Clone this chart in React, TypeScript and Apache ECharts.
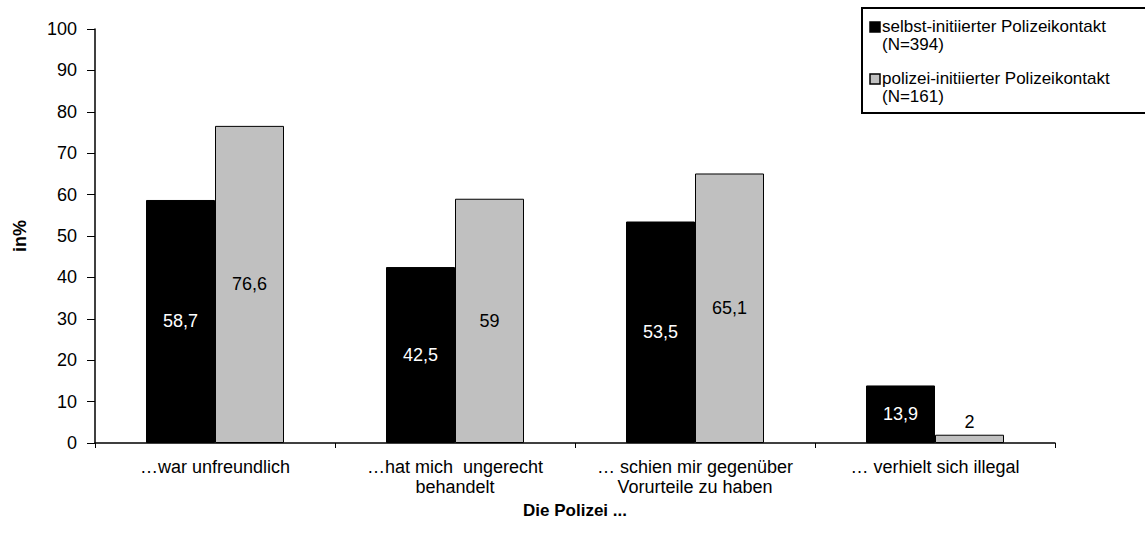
import React, { useEffect, useRef } from "react";
import * as echarts from "echarts";

const categories = [
  "…war unfreundlich",
  "…hat mich  ungerecht\nbehandelt",
  "… schien mir gegenüber\nVorurteile zu haben",
  "… verhielt sich illegal",
];
const seriesNames = [
  "selbst-initiierter Polizeikontakt\n(N=394)",
  "polizei-initiierter Polizeikontakt\n(N=161)",
];
const seriesColors = ["#000000", "#C0C0C0"];
const selbstValues = [58.7, 42.5, 53.5, 13.9];
const polizeiValues = [76.6, 59, 65.1, 2];
const yTicks = { min: 0, max: 100, interval: 10 };

const FONT = "'Liberation Sans', Arial, sans-serif";

function fmt(v: number) {
  return String(v).replace(".", ",");
}

export default function App() {
  const ref = useRef<HTMLDivElement>(null);
  useEffect(() => {
    if (!ref.current) return;
    const chart = echarts.init(ref.current, null, { renderer: "svg" });
    const mkData = (vals: number[], textColor: string) =>
      vals.map((v) => ({
        value: v,
        label: v < 5
          ? { position: "top", color: "#000", distance: 4 }
          : { position: "inside", color: textColor },
      }));
    const legendItems: any[] = [];
    seriesNames.forEach((name, i) => {
      const top = 17 + i * 52;
      legendItems.push({
        type: "rect",
        shape: { x: 870, y: top + 5, width: 10, height: 10 },
        style: { fill: seriesColors[i], stroke: "#000", lineWidth: 1.5 },
      });
      legendItems.push({
        type: "text",
        x: 882,
        y: top,
        style: {
          text: name,
          font: "17px 'Liberation Sans', Arial, sans-serif",
          lineHeight: 18,
          fill: "#000",
          verticalAlign: "top",
        },
      });
    });
    chart.setOption({
      animation: false,
      backgroundColor: "#fff",
      textStyle: { fontFamily: FONT },
      grid: { left: 95, right: 90, top: 29, bottom: 97, containLabel: false, outerBoundsMode: "none" },
      graphic: [
        {
          type: "rect",
          shape: { x: 862, y: 8, width: 300, height: 105 },
          style: { fill: "#fff", stroke: "#000", lineWidth: 2 },
        },
        ...legendItems,
      ],
      xAxis: {
        type: "category",
        data: categories,
        name: "Die Polizei ...",
        nameLocation: "middle",
        nameGap: 51,
        nameTextStyle: { fontWeight: "bold", fontSize: 17, color: "#000" },
        axisLine: { lineStyle: { color: "#000", width: 1.5 } },
        axisTick: { show: true, length: 5, lineStyle: { color: "#000" } },
        axisLabel: { color: "#000", fontSize: 18, margin: 14, lineHeight: 20, interval: 0 },
        splitLine: { show: false },
      },
      yAxis: {
        type: "value",
        min: yTicks.min,
        max: yTicks.max,
        interval: yTicks.interval,
        name: "in%",
        nameLocation: "middle",
        nameGap: 66,
        nameRotate: 90,
        nameTextStyle: { fontWeight: "bold", fontSize: 18, color: "#000" },
        axisLine: { show: true, lineStyle: { color: "#000", width: 1.5 } },
        axisTick: { show: true, inside: false, length: 8, lineStyle: { color: "#000" } },
        axisLabel: { color: "#000", fontSize: 18, margin: 18 },
        splitLine: { show: false },
      },
      series: [
        {
          name: seriesNames[0],
          type: "bar",
          data: mkData(selbstValues, "#fff"),
          barWidth: 69,
          barGap: "0%",
          itemStyle: { color: seriesColors[0], borderColor: "#000", borderWidth: 1 },
          label: { show: true, fontSize: 18, formatter: (p: any) => fmt(p.value) },
        },
        {
          name: seriesNames[1],
          type: "bar",
          data: mkData(polizeiValues, "#000"),
          barWidth: 69,
          barGap: "0%",
          itemStyle: { color: seriesColors[1], borderColor: "#000", borderWidth: 1 },
          label: { show: true, fontSize: 18, formatter: (p: any) => fmt(p.value) },
        },
      ],
    });
    return () => chart.dispose();
  }, []);
  return (
    <div
      ref={ref}
      style={{ position: "fixed", left: 0, top: 0, width: 1145, height: 540, background: "#fff" }}
    />
  );
}
